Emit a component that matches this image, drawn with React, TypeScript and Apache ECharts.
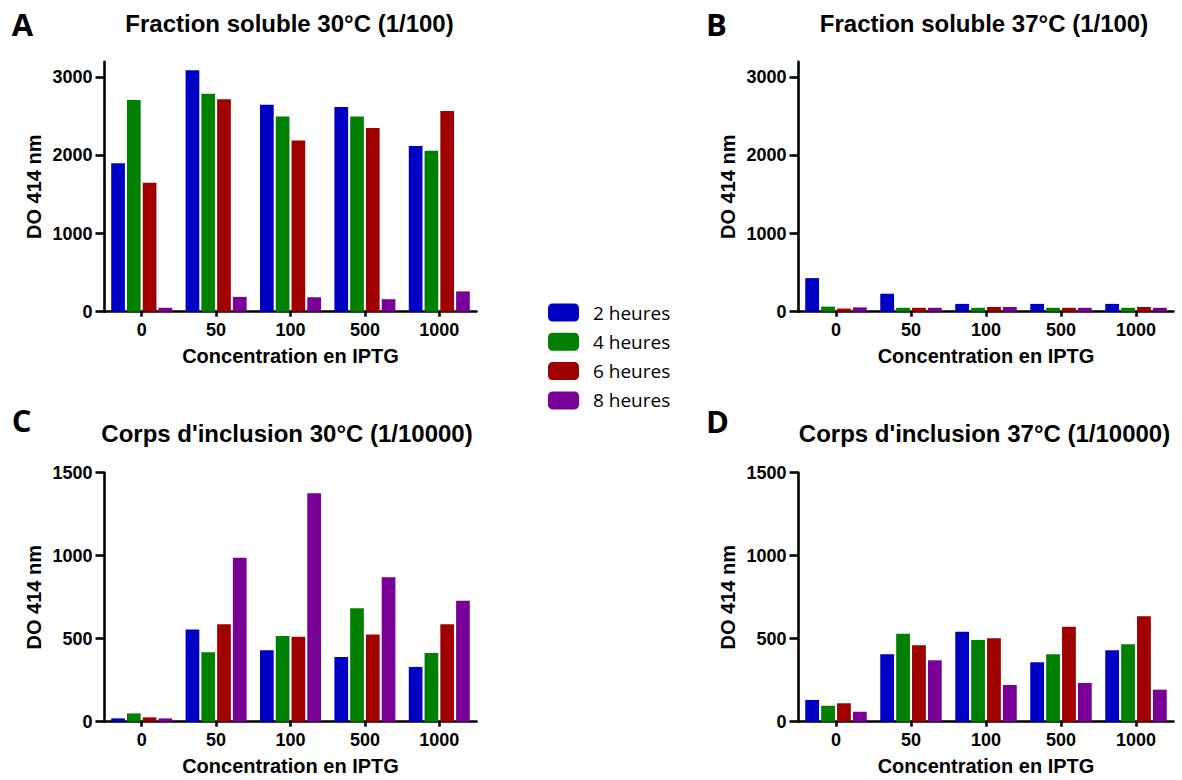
import React, { useEffect, useRef } from "react";
import * as echarts from "echarts";

const categories = ["0", "50", "100", "500", "1000"];
const seriesNames = ["2 heures", "4 heures", "6 heures", "8 heures"];
const colors = ["#0000C4", "#008000", "#A00000", "#780096"];

// Panel A: Fraction soluble 30°C (1/100)
const A_2h = [1900, 3090, 2650, 2620, 2120];
const A_4h = [2710, 2790, 2500, 2500, 2060];
const A_6h = [1650, 2720, 2190, 2350, 2570];
const A_8h = [50, 190, 185, 160, 260];

// Panel B: Fraction soluble 37°C (1/100)
const B_2h = [430, 230, 100, 100, 100];
const B_4h = [65, 50, 50, 50, 50];
const B_6h = [40, 50, 60, 50, 60];
const B_8h = [55, 50, 60, 50, 50];

// Panel C: Corps d'inclusion 30°C (1/10000)
const C_2h = [20, 555, 430, 390, 330];
const C_4h = [50, 418, 516, 683, 414];
const C_6h = [26, 587, 512, 526, 587];
const C_8h = [20, 988, 1376, 870, 729];

// Panel D: Corps d'inclusion 37°C (1/10000)
const D_2h = [131, 406, 542, 358, 430];
const D_4h = [96, 530, 492, 406, 466];
const D_6h = [111, 460, 502, 572, 635];
const D_8h = [60, 370, 221, 233, 193];

const solubleTicks = [0, 1000, 2000, 3000];
const inclusionTicks = [0, 500, 1000, 1500];

const titles = [
  "Fraction soluble 30°C (1/100)",
  "Fraction soluble 37°C (1/100)",
  "Corps d'inclusion 30°C (1/10000)",
  "Corps d'inclusion 37°C (1/10000)",
];
const letters = ["A", "B", "C", "D"];
const yName = "DO 414 nm";
const xName = "Concentration en IPTG";

const panels = [
  { data: [A_2h, A_4h, A_6h, A_8h], max: 3200, ticks: solubleTicks },
  { data: [B_2h, B_4h, B_6h, B_8h], max: 3200, ticks: solubleTicks },
  { data: [C_2h, C_4h, C_6h, C_8h], max: 1500, ticks: inclusionTicks },
  { data: [D_2h, D_4h, D_6h, D_8h], max: 1500, ticks: inclusionTicks },
];

const FONT = "Liberation Sans, Arial, sans-serif";

export default function App() {
  const ref = useRef<HTMLDivElement>(null);

  useEffect(() => {
    if (!ref.current) return;
    const chart = echarts.init(ref.current, null, { renderer: "svg" });

    const grids = [
      { left: 104.5, top: 61.7, width: 372, height: 250 },
      { left: 798.5, top: 61.7, width: 375, height: 250 },
      { left: 104.5, top: 472.7, width: 372, height: 249 },
      { left: 798.5, top: 472.7, width: 375, height: 249 },
    ];

    const titlePos = [
      [289.5, 23.5],
      [984, 23.5],
      [287, 433],
      [984.5, 433],
    ];
    const letterPos = [
      [22.5, 24],
      [716.5, 24],
      [21.5, 420],
      [717.5, 421],
    ];

    const axisLineStyle = { color: "#000", width: 2.6 };

    const xAxes = panels.map((p, i) => ({
      type: "category",
      gridIndex: i,
      data: categories,
      name: xName,
      nameLocation: "middle",
      nameGap: 34,
      nameTextStyle: { fontFamily: FONT, fontWeight: "bold", fontSize: 20, color: "#000" },
      axisLine: { show: true, lineStyle: axisLineStyle },
      axisTick: { show: true, alignWithLabel: true, length: 5, lineStyle: axisLineStyle },
      axisLabel: { fontFamily: FONT, fontWeight: "bold", fontSize: 18, color: "#000", margin: 9 },
      splitLine: { show: false },
    }));

    const yAxes = panels.map((p, i) => ({
      type: "value",
      gridIndex: i,
      min: 0,
      max: p.max,
      interval: p.ticks[1],
      name: yName,
      nameLocation: "middle",
      nameGap: 61,
      nameTextStyle: { fontFamily: FONT, fontWeight: "bold", fontSize: 20, color: "#000" },
      axisLine: { show: true, lineStyle: axisLineStyle },
      axisTick: { show: true, length: 9, lineStyle: axisLineStyle, customValues: p.ticks },
      axisLabel: {
        fontFamily: FONT,
        fontWeight: "bold",
        fontSize: 18,
        color: "#000",
        margin: 12,
        customValues: p.ticks,
        formatter: (v: number) => String(v),
      },
      splitLine: { show: false },
    }));

    const series: any[] = [];
    panels.forEach((p, i) => {
      p.data.forEach((vals, k) => {
        series.push({
          type: "bar",
          name: seriesNames[k],
          xAxisIndex: i,
          yAxisIndex: i,
          data: vals,
          barGap: "15%",
          barCategoryGap: "18%",
          itemStyle: { color: colors[k] },
        });
      });
    });

    const graphics: any[] = [];
    titles.forEach((t, i) => {
      graphics.push({
        type: "text",
        x: titlePos[i][0],
        y: titlePos[i][1],
        style: {
          text: t,
          fontFamily: FONT,
          fontWeight: "bold",
          fontSize: 24,
          fill: "#000",
          align: "center",
          verticalAlign: "middle",
        },
      });
      graphics.push({
        type: "text",
        x: letterPos[i][0],
        y: letterPos[i][1],
        style: {
          text: letters[i],
          fontFamily: "Open Sans, sans-serif",
          fontWeight: "bold",
          fontSize: 31,
          fill: "#000",
          align: "center",
          verticalAlign: "middle",
        },
      });
    });

    chart.setOption({
      animation: false,
      backgroundColor: "#fff",
      grid: grids,
      xAxis: xAxes,
      yAxis: yAxes,
      legend: {
        data: seriesNames,
        orient: "vertical",
        left: 548,
        top: 303,
        padding: 0,
        itemWidth: 31,
        itemHeight: 18,
        itemGap: 10.3,
        icon: "roundRect",
        textStyle: {
          fontFamily: "Open Sans, sans-serif",
          fontSize: 19,
          color: "#000",
          lineHeight: 18,
          padding: [0, 0, 0, 9],
        },
      },
      series,
      graphic: graphics,
    });

    return () => chart.dispose();
  }, []);

  return (
    <div
      ref={ref}
      style={{ position: "absolute", left: 0, top: 0, width: 1182, height: 780 }}
    />
  );
}
